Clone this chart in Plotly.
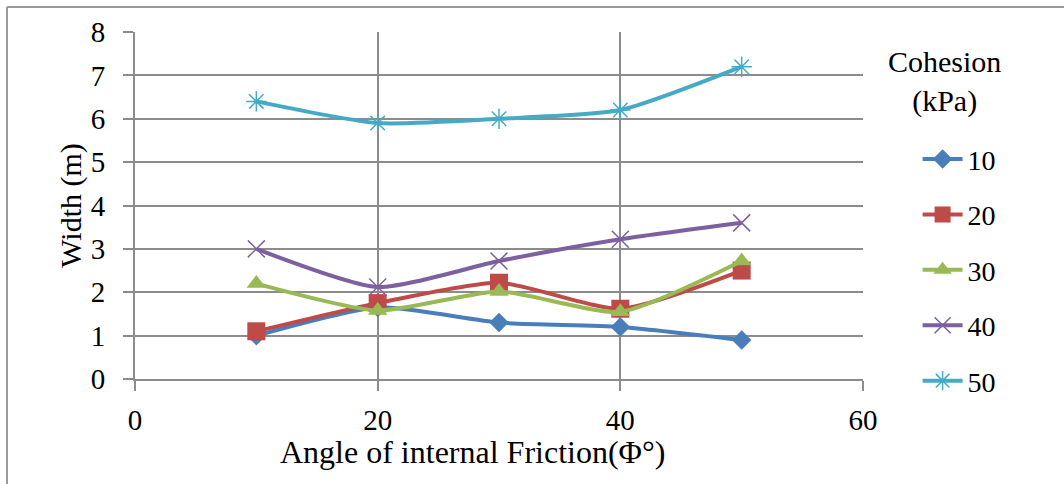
import plotly.graph_objects as go

angles = [10, 20, 30, 40, 50]
cohesion_labels = ["10", "20", "30", "40", "50"]
w_c10 = [1.0, 1.65, 1.3, 1.2, 0.9]
w_c20 = [1.1, 1.75, 2.22, 1.62, 2.5]
w_c30 = [2.2, 1.58, 2.02, 1.55, 2.72]
w_c40 = [3.0, 2.12, 2.72, 3.22, 3.6]
w_c50 = [6.4, 5.9, 6.0, 6.2, 7.2]

series = [w_c10, w_c20, w_c30, w_c40, w_c50]
colors = ["#4a7ebb", "#be4b48", "#98b954", "#7d60a0", "#46aac5"]
symbols = ["diamond", "square", "triangle-up", "x-thin-open", "asterisk-open"]
msizes = [15, 18, 17, 17, 17]

FONT = "Liberation Serif"

fig = go.Figure()
for lab, ys, c, s, ms in zip(cohesion_labels, series, colors, symbols, msizes):
    marker = dict(symbol=s, size=ms, color=c)
    if s.endswith("open"):
        marker["line"] = dict(color=c, width=1.5)
    fig.add_trace(go.Scatter(
        x=angles, y=ys, name=lab, mode="lines+markers",
        line=dict(color=c, width=4, shape="spline", smoothing=0.6),
        marker=marker, legendgroup=lab,
    ))

grid = "#8c8c8c"
fig.update_xaxes(
    range=[0, 60], tickvals=[0, 20, 40, 60], showgrid=True, gridcolor=grid, gridwidth=2,
    showline=True, linecolor=grid, linewidth=2, ticks="outside", ticklen=10, tickcolor=grid,
    tickwidth=2, zeroline=False, tickfont=dict(family=FONT, size=29, color="#000"),
    ticklabelstandoff=4,
)
fig.update_yaxes(
    range=[0, 8], dtick=1, showgrid=True, gridcolor=grid, gridwidth=2,
    showline=True, linecolor=grid, linewidth=2, ticks="outside", ticklen=10, tickcolor=grid,
    tickwidth=2, zeroline=False, tickfont=dict(family=FONT, size=29, color="#000"),
    ticklabelstandoff=12,
    title=dict(text="Width (m)", font=dict(family=FONT, size=30, color="#000"), standoff=0),
)

# x-axis title (slightly left of centre, as in the original)
fig.add_annotation(text="Angle of internal Friction(\u03a6\u00b0)", xref="paper", yref="paper",
                   x=0.464, y=-0.21, xanchor="center", yanchor="middle", showarrow=False,
                   font=dict(family=FONT, size=32, color="#000"))

# chart frame (top and left edges visible)
fig.add_shape(type="line", xref="paper", yref="paper", x0=-0.1758, x1=1.3, y0=1.072, y1=1.072,
              line=dict(color="#9a9a9a", width=2))
fig.add_shape(type="line", xref="paper", yref="paper", x0=-0.1758, x1=-0.1758, y0=1.072, y1=-0.35,
              line=dict(color="#9a9a9a", width=2))

fig.add_annotation(text="Cohesion<br>(kPa)", xref="paper", yref="paper", x=1.1126, y=0.856,
                   xanchor="center", yanchor="middle",
                   showarrow=False, font=dict(family=FONT, size=30, color="#000"), align="center")

fig.update_layout(
    width=1064, height=484, margin=dict(l=135, r=201, t=32, b=105),
    paper_bgcolor="white", plot_bgcolor="white", showlegend=True,
    legend=dict(x=1.075, y=0.705, xanchor="left", yanchor="top", tracegroupgap=16,
                font=dict(family=FONT, size=28, color="#000"), itemwidth=40),
)
fig.write_html("out.html")
